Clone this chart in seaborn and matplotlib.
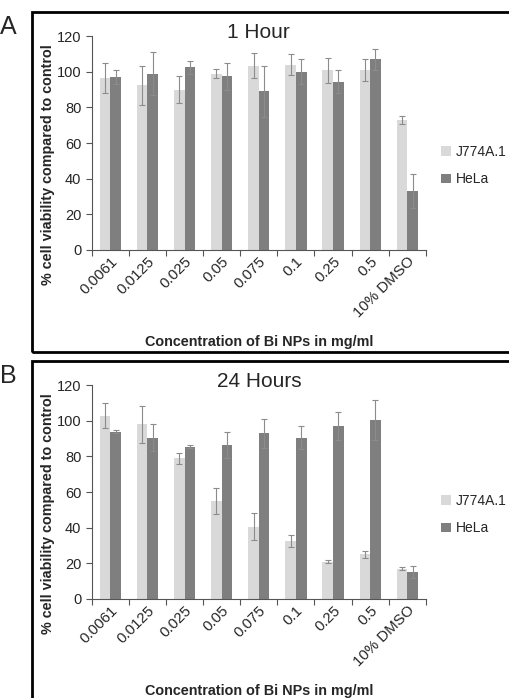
import numpy as np
import pandas as pd
import seaborn as sns
import matplotlib.pyplot as plt
from matplotlib.patches import Rectangle

sns.set_style("white")
plt.rcParams['font.family'] = ['Liberation Sans', 'DejaVu Sans']

# data
conc = ["0.0061", "0.0125", "0.025", "0.05", "0.075", "0.1", "0.25", "0.5", "10% DMSO"]
cells = ["J774A.1", "HeLa"]

j774_1h = [96.5, 92.5, 90, 99, 103.5, 104, 101, 101, 73]
j774_1h_err = [8.5, 11, 7.5, 2.5, 7, 6, 7, 6, 2.5]
hela_1h = [97, 99, 102.5, 97.5, 89, 100, 94.5, 107, 33]
hela_1h_err = [4, 12, 3.5, 7.5, 14.5, 7, 6.5, 6, 9.5]

j774_24h = [103, 98, 79, 55, 40.5, 32.5, 21, 25, 17]
j774_24h_err = [7, 10.5, 3, 7.5, 7.5, 3.5, 0.8, 2, 0.7]
hela_24h = [94, 90.5, 85.5, 86.5, 93, 90.5, 97, 100.5, 15]
hela_24h_err = [1, 7.5, 0.7, 7.5, 8, 6.5, 8, 11.5, 3.5]

palette = {"J774A.1": "#d9d9d9", "HeLa": "#7f7f7f"}


def make_df(a, a_err, b, b_err):
    return pd.DataFrame({
        "conc": conc * 2,
        "cell": [cells[0]] * len(conc) + [cells[1]] * len(conc),
        "val": a + b,
        "err": a_err + b_err,
    })


def draw(ax, df, title):
    sns.barplot(data=df, x="conc", y="val", hue="cell", palette=palette,
                hue_order=cells, order=conc, errorbar=None, width=0.57,
                linewidth=0, ax=ax)
    # error bars from bar centres
    for cont, cell in zip(ax.containers, cells):
        sub = df[df["cell"] == cell]
        xs = [p.get_x() + p.get_width() / 2 for p in cont.patches]
        ax.errorbar(xs, sub["val"].values, yerr=sub["err"].values, fmt="none",
                    ecolor="#8c8c8c", elinewidth=0.8, capsize=2, capthick=0.8)
    ax.set_ylim(0, 120)
    ax.set_xlim(-0.5, len(conc) - 0.5)
    ax.set_yticks(np.arange(0, 121, 20))
    ax.set_xticks(np.arange(-0.5, len(conc), 1), minor=True)
    ax.tick_params(axis="x", which="major", length=0, labelsize=10.8, pad=3)
    ax.tick_params(axis="x", which="minor", length=4, width=0.8, color="#555", direction="out", bottom=True)
    ax.tick_params(axis="y", length=4, width=0.8, color="#555", direction="out", left=True, labelsize=10.5)
    plt.setp(ax.get_xticklabels(), rotation=45, ha="right", rotation_mode="anchor")
    for s in ["top", "right"]:
        ax.spines[s].set_visible(False)
    for s in ["left", "bottom"]:
        ax.spines[s].set_color("#555")
        ax.spines[s].set_linewidth(0.8)
    ax.set_title(title, fontsize=15, pad=-1)
    ax.set_ylabel("% cell viability compared to control", fontsize=10.4, fontweight="bold")
    ax.yaxis.set_label_coords(-0.11, 0.40)
    ax.set_xlabel("Concentration of Bi NPs in mg/ml", fontsize=10.4, fontweight="bold")
    ax.legend(loc="center left", bbox_to_anchor=(1.045, 0.395), frameon=False,
              fontsize=10, handlelength=0.7, handleheight=0.7, handletextpad=0.4,
              labelspacing=1.0, borderpad=0, borderaxespad=0)


fig = plt.figure(figsize=(5.1, 6.98), dpi=100)

ax1 = fig.add_axes([0.180, 0.642, 0.655, 0.306])
draw(ax1, make_df(j774_1h, j774_1h_err, hela_1h, hela_1h_err), "1 Hour")
ax1.xaxis.set_label_coords(0.5, -0.40)

ax2 = fig.add_axes([0.180, 0.142, 0.655, 0.306])
draw(ax2, make_df(j774_24h, j774_24h_err, hela_24h, hela_24h_err), "24 Hours")
ax2.xaxis.set_label_coords(0.5, -0.40)

# panel frames and letters
fig.patches.append(Rectangle((0.063, 1 - 352 / 698), 1.0, (352 - 12) / 698,
                             transform=fig.transFigure, fill=False, lw=2, ec="black"))
fig.patches.append(Rectangle((0.063, -0.05), 1.0, 0.05 + (698 - 361) / 698,
                             transform=fig.transFigure, fill=False, lw=2, ec="black"))
fig.text(0.0, 1 - 27 / 698, "A", fontsize=18, va="center", ha="left")
fig.text(0.0, 1 - 376 / 698, "B", fontsize=18, va="center", ha="left")

fig.savefig("out.png", dpi=100)
